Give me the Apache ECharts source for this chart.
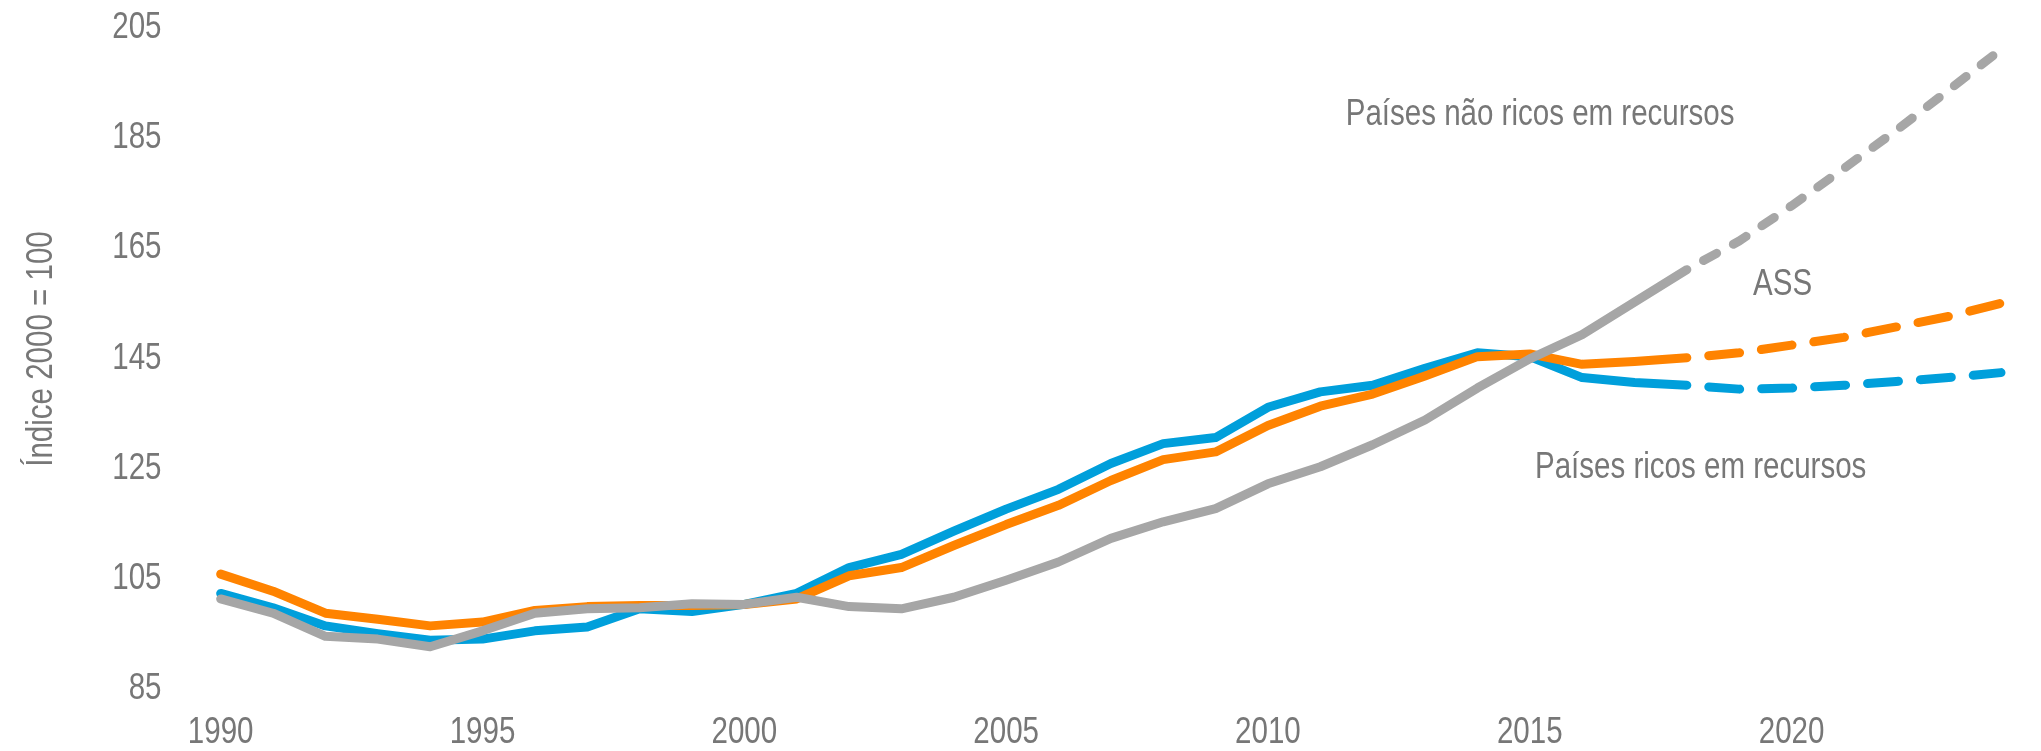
<!DOCTYPE html>
<html>
<head>
<meta charset="utf-8">
<script src="https://cdn.jsdelivr.net/npm/echarts@6/dist/echarts.min.js"></script>
<style>
html,body{margin:0;padding:0;background:#ffffff;}
#chart{width:2041px;height:751px;}
</style>
</head>
<body>
<div id="chart"></div>
<script>
// ---- data ----
const years = ['1990','1991','1992','1993','1994','1995','1996','1997','1998','1999',
  '2000','2001','2002','2003','2004','2005','2006','2007','2008','2009',
  '2010','2011','2012','2013','2014','2015','2016','2017','2018','2019',
  '2020','2021','2022','2023','2024'];

// Países ricos em recursos (blue)
const richValues = [102.0, 99.4, 96.1, 94.7, 93.5, 93.7, 95.2, 95.9, 99.2, 98.7,
  100.0, 102.0, 106.7, 109.1, 113.3, 117.3, 120.9, 125.6, 129.2, 130.3,
  135.8, 138.6, 139.8, 142.9, 145.7, 145.0, 141.2, 140.3, 139.8, 139.1,
  139.3, 139.8, 140.5, 141.2, 142.1];

// ASS (orange)
const assValues = [105.5, 102.4, 98.4, 97.3, 96.1, 96.8, 98.9, 99.6, 99.8, 99.8,
  100.0, 101.0, 105.2, 106.7, 110.7, 114.5, 118.0, 122.5, 126.3, 127.7,
  132.5, 136.0, 138.2, 141.5, 145.0, 145.5, 143.6, 144.1, 144.8, 145.7,
  147.1, 148.5, 150.4, 152.3, 154.7];

// Países não ricos em recursos (gray)
const nonRichValues = [101.0, 98.4, 94.2, 93.7, 92.3, 95.2, 98.4, 99.2, 99.4, 100.1,
  100.0, 101.3, 99.6, 99.2, 101.3, 104.4, 107.7, 112.0, 115.0, 117.4,
  121.9, 125.0, 129.0, 133.5, 139.3, 144.6, 149.0, 154.9, 160.8, 166.0,
  172.4, 179.2, 186.1, 193.4, 200.8];

const xTickLabels = ['1990','1995','2000','2005','2010','2015','2020'];
const yTickLabels = [85, 105, 125, 145, 165, 185, 205];
const yAxisTitle = 'Índice 2000 = 100';
const lastActualYear = '2018';
const yMin = 85, yMax = 205, yStep = 20;

const seriesDefs = [
  { name: 'Países ricos em recursos', values: richValues, color: '#009FDB', dash: [31, 22] },
  { name: 'ASS', values: assValues, color: '#FF8300', dash: [31, 22] },
  { name: 'Países não ricos em recursos', values: nonRichValues, color: '#A6A6A6', dash: [15, 19] }
];

const annotations = [
  { text: 'Países não ricos em recursos', x: 1345.7, y: 115 },
  { text: 'ASS', x: 1753, y: 285 },
  { text: 'Países ricos em recursos', x: 1535, y: 468 }
];

// ---- chart ----
const textColor = '#777777';
const narrowScale = 0.82;
const textDy = 2;
const font36 = '36px "Liberation Sans", Arial, sans-serif';
const splitIdx = years.indexOf(lastActualYear);
const series = [];
seriesDefs.forEach(function (d) {
  series.push({
    name: d.name, type: 'line', symbol: 'none', silent: true,
    data: d.values.map(function (v, i) { return i <= splitIdx ? v : null; }),
    lineStyle: { color: d.color, width: 9, cap: 'round', join: 'round' }
  });
  series.push({
    name: d.name + ' (proj.)', type: 'line', symbol: 'none', silent: true,
    data: d.values.map(function (v, i) { return i >= splitIdx ? v : null; }),
    lineStyle: { color: d.color, width: 9, cap: 'round', join: 'round',
      type: d.dash, dashOffset: d.dash[0] }
  });
});

const chart = echarts.init(document.getElementById('chart'), null, { renderer: 'canvas' });
chart.setOption({
  animation: false,
  backgroundColor: '#ffffff',
  grid: { left: 220.7, right: 40, top: 26.3, bottom: 64, containLabel: false },
  xAxis: {
    type: 'category', data: years, boundaryGap: false,
    axisLine: { show: false }, axisTick: { show: false }, splitLine: { show: false },
    axisLabel: { show: false }
  },
  yAxis: {
    type: 'value', min: yMin, max: yMax, interval: yStep,
    axisLine: { show: false }, axisTick: { show: false }, splitLine: { show: false },
    axisLabel: { show: false }
  },
  series: series
});

// Text in a narrow (Arial Narrow–like) face: Liberation Sans compressed horizontally.
function narrowText(text, x, y, align, extra) {
  const el = { type: 'text', x: x, y: y, scaleX: narrowScale, silent: true,
    style: { text: text, fill: textColor, font: font36,
      textAlign: align, textVerticalAlign: 'middle' } };
  return Object.assign(el, extra || {});
}

const graphics = [];
xTickLabels.forEach(function (l) {
  const px = chart.convertToPixel({ xAxisIndex: 0 }, l);
  graphics.push(narrowText(l, px, 731.5 + textDy, 'center'));
});
yTickLabels.forEach(function (v) {
  const py = chart.convertToPixel({ yAxisIndex: 0 }, v);
  graphics.push(narrowText(String(v), 161.5, py + textDy, 'right'));
});
graphics.push(narrowText(yAxisTitle, 39.7 + textDy, 349, 'center', { rotation: Math.PI / 2 }));
annotations.forEach(function (a) {
  graphics.push(narrowText(a.text, a.x, a.y, 'left'));
});
chart.setOption({ graphic: graphics });
</script>
</body>
</html>
